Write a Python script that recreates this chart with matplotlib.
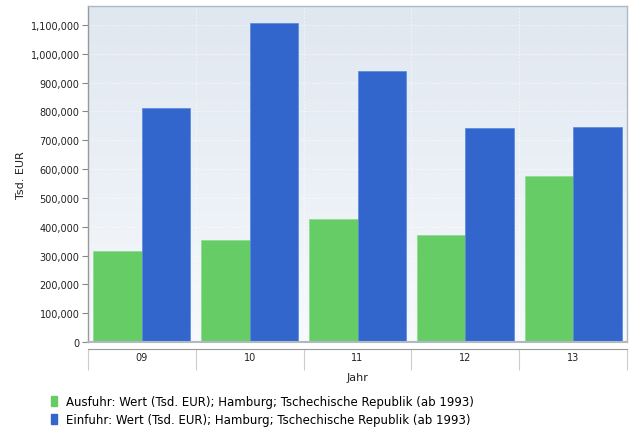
import matplotlib
matplotlib.use("Agg")
import matplotlib.pyplot as plt
import numpy as np
from matplotlib.ticker import FuncFormatter, FixedLocator
from matplotlib.patches import Rectangle

categories = ["09", "10", "11", "12", "13"]
ausfuhr = [316800, 354000, 426800, 372000, 576000]
einfuhr = [812000, 1107000, 940000, 741500, 746000]
series_names = ["Ausfuhr: Wert (Tsd. EUR); Hamburg; Tschechische Republik (ab 1993)",
                "Einfuhr: Wert (Tsd. EUR); Hamburg; Tschechische Republik (ab 1993)"]
yticks = list(range(0, 1100001, 100000))

green = "#66cc66"
blue = "#3366cc"

W, H = 633, 439
fig = plt.figure(figsize=(W/100, H/100), dpi=100)
left, right, top, bottom = 88, 627, 7, 343
ax = fig.add_axes([left/W, 1-bottom/H, (right-left)/W, (bottom-top)/H])

n = len(categories)
x = np.arange(n)
bw = 0.45
ax.set_xlim(-0.5, n-0.5)
ymax = 1100000 * (bottom-top) / (343-26)
ax.set_ylim(0, ymax)

# gradient background
grad = np.linspace(0, 1, 256).reshape(-1, 1)
top_c = np.array([0xdf, 0xe7, 0xf0]) / 255
bot_c = np.array([0xf7, 0xf9, 0xfc]) / 255
img = top_c[None, None, :] * (1-grad[:, :, None]) + bot_c[None, None, :] * grad[:, :, None]
ax.imshow(img, extent=[0, 1, 0, 1], transform=ax.transAxes, aspect="auto", zorder=0)

# grid
for yt in yticks[1:]:
    ax.axhline(yt, color="white", lw=0.6, ls=(0, (2, 2)), alpha=0.7, zorder=1)
for b in np.arange(0.5, n-0.5, 1):
    ax.axvline(b, color="white", lw=0.6, ls=(0, (2, 2)), alpha=0.7, zorder=1)

ax.bar(x - bw/2, ausfuhr, width=bw, color=green, edgecolor="#88dd88", linewidth=0.5, zorder=2, label=series_names[0])
ax.bar(x + bw/2, einfuhr, width=bw, color=blue, edgecolor="#5588dd", linewidth=0.5, zorder=2, label=series_names[1])

# frame
for s in ["top", "right", "left"]:
    ax.spines[s].set_color("#b0b8c0")
    ax.spines[s].set_linewidth(1)
ax.spines["left"].set_color("#999999")
ax.spines["bottom"].set_position(("outward", 5))
ax.spines["bottom"].set_color("#999999")
ax.plot([0, 1], [0, 0], transform=ax.transAxes, color="#b0b8c0", lw=1.5, clip_on=False, zorder=3)

ax.yaxis.set_major_locator(FixedLocator(yticks))
ax.yaxis.set_major_formatter(FuncFormatter(lambda v, p: f"{int(v):,}"))
ax.tick_params(axis="y", length=4, width=0.8, color="#888888", labelsize=7, pad=2, labelcolor="#222222")

ax.xaxis.set_major_locator(FixedLocator(np.arange(-0.5, n, 1)))
ax.xaxis.set_major_formatter(FuncFormatter(lambda v, p: ""))
ax.set_xticks(x, labels=categories, minor=True)
ax.tick_params(axis="x", which="major", length=15, width=0.8, color="#cccccc", direction="out")
ax.tick_params(axis="x", which="minor", length=0, labelsize=7, pad=2.5, labelcolor="#222222")

ax.set_xlabel("Jahr", fontsize=8, labelpad=-2, color="#222222")
ax.set_ylabel("Tsd. EUR", fontsize=8, labelpad=3, color="#222222")

handles = [Rectangle((0, 0), 1, 1, color=green), Rectangle((0, 0), 1, 1, color=blue)]
fig.legend(handles, series_names, loc="upper left", bbox_to_anchor=(51/W, 1-396/H),
           frameon=False, fontsize=8.5, handlelength=0.55, handleheight=0.9, handletextpad=0.7,
           labelspacing=0.45, borderaxespad=0, borderpad=0)

fig.savefig("out.png", dpi=100, facecolor="white")
